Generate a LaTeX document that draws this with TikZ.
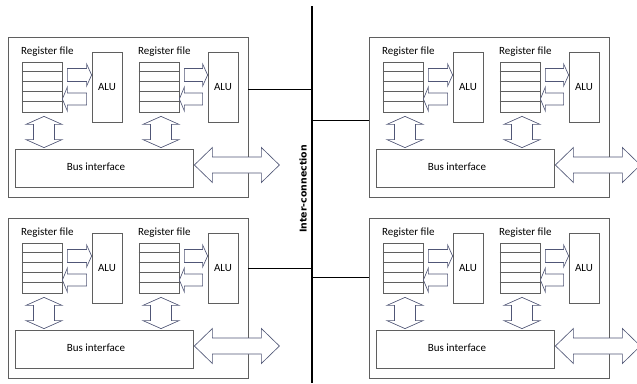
\documentclass[tikz,border=0pt]{standalone}
\usepackage{fontspec}
\setmainfont{Carlito}
\newfontfamily\labelfont{DejaVu Sans}
\usetikzlibrary{calc}

\definecolor{boxgray}{RGB}{95,95,95}
\definecolor{arrowslate}{RGB}{80,86,118}

% fat arrow: tail, tip, shaft half width, head half width
\newcommand\fatarrow[4]{%
  \draw[fat] let \p1=#1, \p2=#2, \n1={ifthenelse(\x2>\x1,5,-5)} in
    (\x1,\y1+#3) -- (\x2-\n1,\y1+#3) -- (\x2-\n1,\y1+#4) -- (\x2,\y2)
    -- (\x2-\n1,\y1-#4) -- (\x2-\n1,\y1-#3) -- (\x1,\y1-#3) -- cycle;}
% double arrows: tip, tip, shaft half width, head half width
\newcommand\vdblarrow[4]{%
  \draw[fat] let \p1=#1, \p2=#2 in
    (\x1,\y1) -- (\x1+#4,\y1-8pt) -- (\x1+#3,\y1-8pt) -- (\x2+#3,\y2+8pt)
    -- (\x2+#4,\y2+8pt) -- (\x2,\y2) -- (\x2-#4,\y2+8pt) -- (\x2-#3,\y2+8pt)
    -- (\x1-#3,\y1-8pt) -- (\x1-#4,\y1-8pt) -- cycle;}
\newcommand\hdblarrow[4]{%
  \draw[fat] let \p1=#1, \p2=#2 in
    (\x1,\y1) -- (\x1+18pt,\y1+#4) -- (\x1+18pt,\y1+#3) -- (\x2-18pt,\y2+#3)
    -- (\x2-18pt,\y2+#4) -- (\x2,\y2) -- (\x2-18pt,\y2-#4) -- (\x2-18pt,\y2-#3)
    -- (\x1+18pt,\y1-#3) -- (\x1+18pt,\y1-#4) -- cycle;}

\begin{document}
\begin{tikzpicture}[x=1pt,y=-1pt,
  box/.style={draw=boxgray,line width=0.75pt,inner sep=0pt},
  txt/.style={inner sep=0pt,font=\fontsize{11}{13}\selectfont,text=black},
  fat/.style={draw=arrowslate,fill=white,line width=0.65pt,line join=miter},
  link/.style={line width=1.4pt}]
\useasboundingbox (0,0) rectangle (637,383);

% interconnection bus
\coordinate (bustop) at (312,6);
\coordinate (busbot) at (312,383);
\draw[link] (bustop) -- (busbot);
\node[font=\labelfont\bfseries\fontsize{9.4}{11}\selectfont,rotate=90] (icn) at (303,189) {Inter-connection};

\foreach \dx/\dy/\id/\tapy/\side in {0/0/A/53/east,361/0/B/84/west,0/181/C/51/east,361/181/D/60/west}{
  \node[box,minimum width=240pt,minimum height=160pt] (blk\id) at (\dx+128,\dy+117) {};
  % register files
  \node[box,minimum width=40pt,minimum height=50pt] (reg\id1) at (\dx+42,\dy+87) {};
  \node[box,minimum width=40pt,minimum height=50pt] (reg\id2) at (\dx+159,\dy+87) {};
  \foreach \r in {1,2}
    \foreach \k in {1,...,4}
      \draw[boxgray,line width=0.75pt] ($(reg\id\r.north west)+(0,10*\k)$) -- ($(reg\id\r.north east)+(0,10*\k)$);
  \node[txt,anchor=west] (lbl\id1) at (\dx+21,\dy+52) {Register file};
  \node[txt,anchor=west] (lbl\id2) at (\dx+138,\dy+52) {Register file};
  % ALUs
  \node[box,txt,minimum width=30pt,minimum height=70pt] (alu\id1) at (\dx+107,\dy+87) {ALU};
  \node[box,txt,minimum width=30pt,minimum height=70pt] (alu\id2) at (\dx+223,\dy+87) {ALU};
  % bus interface
  \node[box,minimum width=178pt,minimum height=38pt] (bus\id) at (\dx+104,\dy+168) {};
  \node[txt] (bustxt\id) at (\dx+96,\dy+167) {Bus interface};
  % tap to the interconnect
  \coordinate (tap\id) at ($(blk\id.north \side)+(0,\tapy)$);
  \draw[link] (tap\id) -- (tap\id -| bustop);
  % data paths
  \foreach \r in {1,2}{
    \fatarrow{($(reg\id\r.east)+(5,-12)$)}{($(alu\id\r.west)+(0,-12)$)}{6.5pt}{11pt}
    \fatarrow{($(alu\id\r.west)+(-5,12)$)}{($(reg\id\r.east)+(0,12)$)}{6pt}{12pt}
    \vdblarrow{($(reg\id\r.south)+(2,4)$)}{($(bus\id.north -| reg\id\r.south)+(2,-1)$)}{10.5pt}{18pt}
  }
  \hdblarrow{($(bus\id.east)+(1,-3)$)}{($(bus\id.east)+(86,-3)$)}{8pt}{17.5pt}
}
\end{tikzpicture}
\end{document}
